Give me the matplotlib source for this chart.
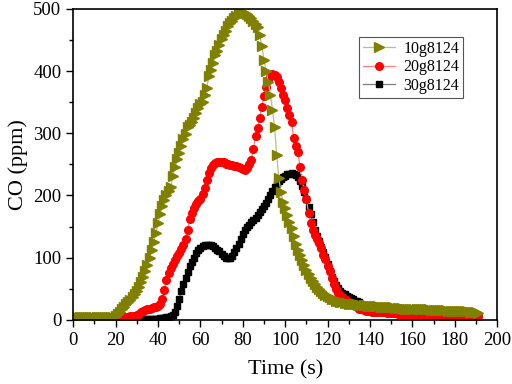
import numpy as np
import matplotlib
matplotlib.use('Agg')
import matplotlib.pyplot as plt
from matplotlib.ticker import MultipleLocator

# CO concentration (ppm), one reading per second from t = 0 s
co_10g = [5] * 20 + [
    6, 9, 13, 17, 21, 25, 29, 32, 36, 41,
    46, 53, 61, 69, 78, 88, 100, 112, 125, 140,
    155, 170, 183, 193, 200, 207, 214, 232, 245, 258,
    268, 280, 290, 298, 310, 314, 318, 325, 333, 340,
    347, 350, 362, 372, 392, 402, 413, 425, 433, 442,
    452, 458, 464, 472, 477, 481, 486, 489, 492, 494,
    495, 494, 492, 489, 485, 480, 475, 470, 458, 440,
    418, 400, 383, 362, 338, 310, 265, 228, 205, 190,
    180, 168, 157, 147, 135, 122, 113, 105, 97, 88,
    80, 73, 67, 62, 57, 53, 50, 46, 43, 40,
    38, 36, 34, 33, 31, 30, 29, 28, 27, 27,
    26, 26, 25, 25, 25, 24, 24, 24, 24, 23,
    23, 23, 22, 22, 22, 21, 21, 21, 20, 20, 20,
    20, 19, 19, 19, 19, 18, 18, 18, 18, 18,
    18, 17, 17, 17, 17, 17, 17, 17, 16, 16,
    16, 16, 16, 16, 16, 16, 15, 15, 15, 15,
    15, 15, 15, 14, 14, 14, 13, 13, 13, 12, 11]

co_20g = [3] * 20 + [
    3, 3, 4, 4, 5, 5, 5, 6, 6, 7,
    8, 10, 12, 14, 16, 17, 18, 19, 20, 21,
    23, 26, 33, 48, 64, 75, 84, 90, 97, 102,
    107, 114, 121, 130, 145, 162, 172, 180, 186, 191,
    195, 203, 212, 225, 236, 244, 249, 252, 253, 254,
    254, 253, 251, 250, 249, 249, 248, 247, 246, 244,
    242, 241, 244, 250, 257, 275, 295, 308, 325, 342,
    360, 375, 386, 392, 395, 394, 391, 383, 373, 362,
    354, 340, 330, 318, 292, 280, 270, 245, 225, 208,
    194, 172, 155, 145, 137, 130, 123, 115, 105, 98,
    86, 78, 68, 58, 50, 44, 40, 37, 33, 30,
    28, 26, 24, 22, 20, 18, 17, 16, 15, 14, 14,
    13, 13, 13, 12, 12, 12, 12, 11, 11, 11,
    11, 11, 10, 10, 10, 10, 10, 10, 9, 9,
    9, 9, 9, 9, 9, 8, 8, 8, 8, 8,
    8, 8, 8, 7, 7, 7, 7, 7, 7, 7,
    7, 7, 7, 7, 6, 6, 6, 6, 6, 6, 6]

co_30g = [2] * 35 + [
    2, 2, 2, 2, 2, 2, 3, 3, 3, 4,
    4, 6, 8, 12, 22, 34, 47, 58, 67, 77,
    86, 93, 100, 107, 112, 116, 119, 121, 121, 121,
    120, 118, 116, 113, 110, 106, 103, 100, 99, 99,
    103, 109, 115, 122, 130, 138, 144, 149, 153, 157,
    160, 164, 169, 173, 178, 183, 188, 194, 200, 207,
    213, 218, 223, 227, 230, 232, 234, 235, 236, 235,
    233, 230, 224, 216, 206, 194, 182, 170, 157, 145,
    135, 126, 117, 109, 101, 90, 79, 69, 62, 56,
    51, 47, 44, 41, 39, 37, 35, 33, 31, 30,
    28, 26, 24, 22, 20, 18,
    17, 16, 15, 15, 14, 14, 13, 13, 13, 12,
    12, 12, 12, 11, 11, 11, 11, 11, 11, 10,
    10, 10, 10, 10, 10, 10, 10, 9, 9, 9,
    9, 9, 9, 9, 9, 9, 8, 8, 8, 8,
    8, 8, 8, 8, 8, 8, 7, 7, 7, 7, 7]

labels = ['10g8124', '20g8124', '30g8124']

plt.rcParams['font.family'] = ['Liberation Serif', 'DejaVu Serif']

fig = plt.figure(figsize=(5.12, 3.84), dpi=100)
ax = fig.add_axes([0.143, 0.167, 0.828, 0.81])

t30 = np.arange(len(co_30g))
t20 = np.arange(len(co_20g))
t10 = np.arange(len(co_10g))

# черные снизу, оливковые сверху
h3, = ax.plot(t30, co_30g, color='#7f7f7f', lw=0.9, marker='s', ms=4.5,
              mfc='black', mec='black', label=labels[2])
h2, = ax.plot(t20, co_20g, color='#ff8080', lw=0.9, marker='o', ms=5.5,
              mfc='red', mec='red', label=labels[1])
h1, = ax.plot(t10, co_10g, color='#bdbd80', lw=0.9, marker='>', ms=6.5,
              mfc='#808000', mec='#808000', label=labels[0])

ax.set_xlim(0, 200)
ax.set_ylim(0, 500)
ax.xaxis.set_major_locator(MultipleLocator(20))
ax.xaxis.set_minor_locator(MultipleLocator(10))
ax.yaxis.set_major_locator(MultipleLocator(100))
ax.yaxis.set_minor_locator(MultipleLocator(50))
ax.tick_params(which='major', direction='out', length=5, width=1, labelsize=13.5)
ax.tick_params(which='minor', direction='out', length=3, width=1)
for s in ax.spines.values():
    s.set_linewidth(1.2)

ax.set_xlabel('Time (s)', fontsize=16, labelpad=8)
ax.set_ylabel('CO (ppm)', fontsize=16, labelpad=4)

leg = ax.legend(handles=[h1, h2, h3], loc='upper right', bbox_to_anchor=(0.92, 0.91),
                borderaxespad=0, fontsize=11.5, fancybox=False, framealpha=1,
                edgecolor='#555555', handlelength=2.0, borderpad=0.25,
                labelspacing=0.15, handletextpad=0.5)
leg.get_frame().set_linewidth(0.8)

fig.savefig('out.png', dpi=100)
